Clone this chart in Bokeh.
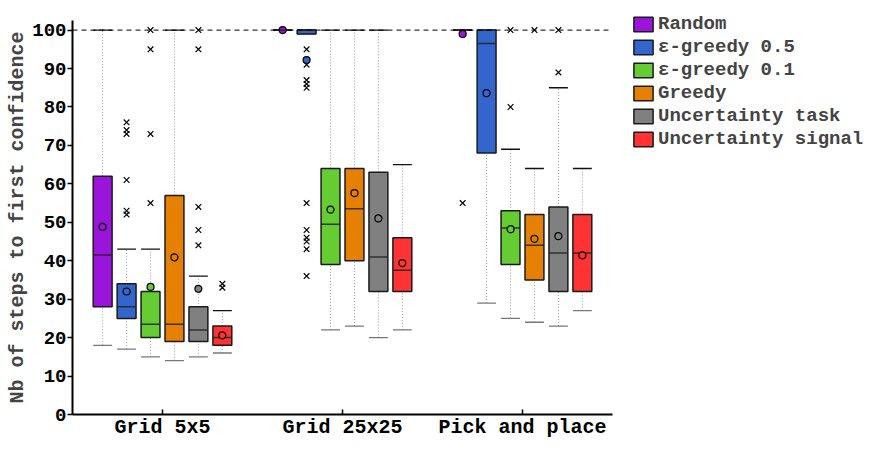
from bokeh.plotting import figure
from bokeh.layouts import row
from bokeh.models import ColumnDataSource, Range1d, FixedTicker, Legend, LegendItem, Span
from bokeh.embed import file_html
from bokeh.resources import INLINE

# ---------------- data ----------------
groups = ["Grid 5x5", "Grid 25x25", "Pick and place"]
methods = ["Random", "\u03b5-greedy 0.5", "\u03b5-greedy 0.1", "Greedy",
           "Uncertainty task", "Uncertainty signal"]
colors = ["#9b14d9", "#3366cc", "#66cc33", "#e68000", "#808080", "#ff3333"]

# rows = methods, columns = groups
q1 = [[28, 100, 100], [25, 99, 68], [20, 39, 39], [19, 40, 35], [19, 32, 32], [18, 32, 32]]
median = [[41.5, 100, 100], [28, 100, 96.5], [23.5, 49.5, 48.5], [23.5, 53.5, 44],
          [22, 41, 42], [20, 37.5, 42]]
q3 = [[62, 100, 100], [34, 100, 100], [32, 64, 53], [57, 64, 52], [28, 63, 54], [23, 46, 52]]
whisk_lo = [[18, 100, 100], [17, 99, 29], [15, 22, 25], [14, 23, 24], [15, 20, 23], [16, 22, 27]]
whisk_hi = [[100, 100, 100], [43, 100, 100], [43, 100, 69], [100, 100, 64], [36, 100, 85],
            [27, 65, 64]]
means = [[48.8, 100, 99], [32, 92.2, 83.6], [33.2, 53.3, 48.2], [40.9, 57.6, 45.7],
         [32.7, 51, 46.4], [20.6, 39.4, 41.4]]
outliers = [
    [[], [], [55]],
    [[76, 74, 73, 61, 53, 52], [95, 91, 87, 86, 85, 55, 48, 46, 45, 43, 36], []],
    [[100, 95, 73, 55], [], [100, 80]],
    [[], [], [100]],
    [[100, 95, 54, 48, 44], [], [100, 89]],
    [[34, 33], [], []],
]
y_ticks = list(range(0, 101, 10))

# ---------------- layout constants ----------------
STEP = 0.133
BOXW = 0.105
FONT = "Liberation Mono"
H = 441

p = figure(width=620, height=H, output_backend="svg", toolbar_location=None,
           x_range=Range1d(0.5, 3.5), y_range=Range1d(0, 102.5),
           min_border_left=72, min_border_right=8, min_border_top=20, min_border_bottom=0)
p.xgrid.visible = False
p.ygrid.visible = False
p.outline_line_color = None

p.add_layout(Span(location=100, dimension="width", line_color="black",
                  line_dash="5 4", line_width=1))

for mi, name in enumerate(methods):
    xs = [gi + 1 + (mi - 2.5) * STEP for gi in range(3)]
    src = ColumnDataSource(dict(
        x=xs, x0=[x - BOXW / 2 for x in xs], x1=[x + BOXW / 2 for x in xs],
        q1=q1[mi], med=median[mi], q3=q3[mi], lo=whisk_lo[mi], hi=whisk_hi[mi],
        mean=means[mi]))
    p.segment("x", "q3", "x", "hi", source=src, line_color="#9a9a9a", line_dash="1 2",
              line_width=1)
    p.segment("x", "lo", "x", "q1", source=src, line_color="#9a9a9a", line_dash="1 2",
              line_width=1)
    p.segment("x0", "hi", "x1", "hi", source=src, line_color="#111111", line_width=1.3)
    p.segment("x0", "lo", "x1", "lo", source=src, line_color="#777777", line_width=1.3)
    p.vbar(x="x", width=BOXW, top="q3", bottom="q1", source=src,
           fill_color=colors[mi], line_color="#1a1a1a", line_width=1.5)
    p.segment("x0", "med", "x1", "med", source=src, line_color="#222222",
              line_width=1.5, line_alpha=0.85)
    p.scatter("x", "mean", source=src, marker="circle", size=7, fill_color=colors[mi],
              line_color="black", line_width=1.2)
    ox, oy = [], []
    for gi in range(3):
        for v in outliers[mi][gi]:
            ox.append(xs[gi])
            oy.append(v)
    p.scatter(ox, oy, marker="x", size=8, line_color="black", line_width=1.2)

# axes
for ax in (p.xaxis[0], p.yaxis[0]):
    ax.axis_line_width = 2
    ax.axis_line_color = "black"
    ax.major_tick_line_width = 1.5
    ax.major_tick_line_color = "black"
    ax.minor_tick_line_color = None
    ax.major_label_text_font = FONT
    ax.major_label_text_font_style = "bold"
    ax.major_label_text_color = "black"

p.xaxis.ticker = FixedTicker(ticks=[1, 2, 3])
p.xaxis.major_label_overrides = {1: groups[0], 2: groups[1], 3: groups[2]}
p.xaxis.major_tick_in = 5
p.xaxis.major_tick_out = 0
p.xaxis.major_label_standoff = 1
p.xaxis.major_label_text_font_size = "20px"

p.yaxis.ticker = FixedTicker(ticks=y_ticks)
p.yaxis.major_tick_in = 0
p.yaxis.major_tick_out = 5
p.yaxis.major_label_standoff = 1
p.yaxis.major_label_text_font_size = "19px"
p.yaxis.axis_label = "Nb of steps to first confidence"
p.yaxis.axis_label_text_font = FONT
p.yaxis.axis_label_text_font_style = "bold"
p.yaxis.axis_label_text_font_size = "20px"
p.yaxis.axis_label_standoff = 0

# legend panel (separate figure to the right, holding only the legend)
lg = figure(width=245, height=H, output_backend="svg", toolbar_location=None,
            x_range=Range1d(0, 1), y_range=Range1d(0, 1), title=None,
            x_axis_location=None, y_axis_location=None,
            min_border_left=0, min_border_right=0, min_border_top=0, min_border_bottom=0)
lg.xgrid.visible = False
lg.ygrid.visible = False
lg.outline_line_color = None
items = []
for mi, name in enumerate(methods):
    r = lg.vbar(x=[5], width=0.1, top=[5], bottom=[4], fill_color=colors[mi],
                line_color="#1a1a1a", line_width=1.5)
    items.append(LegendItem(label=name, renderers=[r]))
legend = Legend(items=items, location=(11, 264), padding=0, spacing=0, margin=0,
                glyph_width=24, glyph_height=18, label_standoff=3, label_height=23,
                label_text_font=FONT, label_text_font_style="bold",
                label_text_font_size="19px", border_line_color=None,
                background_fill_alpha=0)
lg.add_layout(legend, "left")

open("out.html", "w").write(file_html(row(p, lg), INLINE))
